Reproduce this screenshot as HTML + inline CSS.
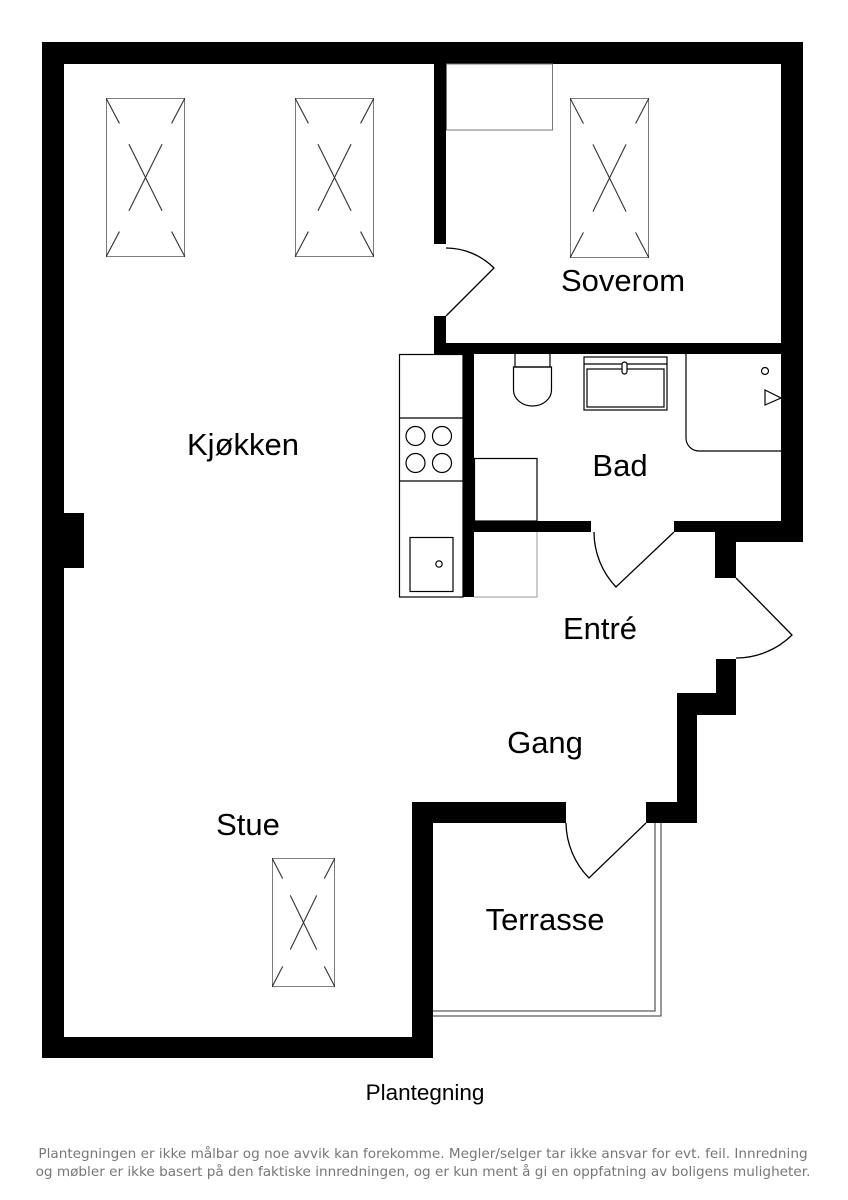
<!DOCTYPE html>
<html><head><meta charset="utf-8"><style>
html,body{margin:0;padding:0;background:#fff;}
svg{display:block}
text{font-family:"Liberation Sans",Arial,sans-serif;fill:#000}
.ft{font-family:"DejaVu Sans",Verdana,sans-serif;fill:#777;font-size:13.6px}
</style></head><body>
<svg width="848" height="1200" viewBox="0 0 848 1200" xmlns="http://www.w3.org/2000/svg">
<defs>
<symbol id="sky" viewBox="0 0 100 100" preserveAspectRatio="none">
<rect x="0" y="0" width="100" height="100" fill="none" stroke="#333" stroke-width="1.3" vector-effect="non-scaling-stroke"/>
<path d="M0 0L17 16M100 0L83 16M0 100L17 84M100 100L83 84M29 29L71 71M71 29L29 71" stroke="#333" stroke-width="1.1" fill="none" vector-effect="non-scaling-stroke"/>
</symbol>
</defs>
<g fill="#000">
<rect x="42" y="42" width="761" height="22"/>
<rect x="42" y="42" width="22" height="1016"/>
<rect x="42" y="1037" width="391" height="21"/>
<rect x="781" y="42" width="22" height="500"/>
<rect x="64" y="513" width="20" height="55"/>
<rect x="434" y="64" width="12" height="180"/>
<rect x="434" y="316" width="12" height="38"/>
<rect x="434" y="343" width="347" height="11"/>
<rect x="463" y="354" width="11" height="243"/>
<rect x="474" y="521" width="117" height="11"/>
<rect x="674" y="521" width="107" height="11"/>
<rect x="715" y="532" width="88" height="10"/>
<rect x="715" y="532" width="21" height="46"/>
<rect x="716" y="659" width="20" height="56"/>
<rect x="677" y="693" width="59" height="22"/>
<rect x="677" y="693" width="20" height="130"/>
<rect x="646" y="802" width="51" height="21"/>
<rect x="412" y="802" width="154" height="21"/>
<rect x="412" y="802" width="21" height="256"/>
</g>
<g fill="none" stroke="#333" stroke-width="1">
<path d="M655 823V1011H433M661 823V1016H433"/>
</g>
<g fill="none" stroke="#000" stroke-width="1.3">
<path d="M446 316L494 268A68 68 0 0 0 446 248"/>
<path d="M674 532L616 587A80 80 0 0 1 594 532"/>
<path d="M736 578L792 635A80 80 0 0 1 736 658"/>
<path d="M646 823L589 878A80 80 0 0 1 566 823"/>
</g>
<rect x="446.5" y="64" width="106" height="66" fill="none" stroke="#777" stroke-width="1"/>
<use href="#sky" x="106" y="98" width="79" height="159"/>
<use href="#sky" x="295" y="98" width="79" height="159"/>
<use href="#sky" x="570" y="98" width="79" height="160"/>
<use href="#sky" x="272" y="858" width="63" height="129"/>
<g fill="none" stroke="#000" stroke-width="1.2">
<rect x="399.5" y="354.5" width="63.5" height="242.5"/>
<line x1="399.5" y1="418" x2="463" y2="418"/>
<line x1="399.5" y1="481" x2="463" y2="481"/>
<circle cx="415.5" cy="436" r="9.5"/><circle cx="442" cy="436" r="9.5"/>
<circle cx="415.5" cy="463" r="9.5"/><circle cx="442" cy="463" r="9.5"/>
<rect x="410" y="537.5" width="43" height="54"/>
<circle cx="439" cy="564" r="3.2"/>
<rect x="474.5" y="458.5" width="62.5" height="62.5"/>
</g>
<path d="M474 597H537V532" fill="none" stroke="#999" stroke-width="1"/>
<g fill="none" stroke="#000" stroke-width="1.2">
<path d="M515 354V367H550V354"/>
<path d="M513.5 367V390A19 16 0 0 0 551.5 390V367Z"/>
<rect x="584" y="357" width="83" height="53"/>
<line x1="584" y1="364" x2="667" y2="364"/>
<rect x="587" y="369" width="77" height="38"/>
<rect x="622" y="362" width="5" height="12" rx="2.5" fill="#fff"/>
<path d="M686 354V438A13 13 0 0 0 699 451H781"/>
<circle cx="765" cy="371" r="3.5"/>
<path d="M765 390L781 398L765 405Z"/>
</g>
<text x="623" y="291" font-size="31" text-anchor="middle">Soverom</text>
<text x="243" y="455" font-size="31" text-anchor="middle">Kjøkken</text>
<text x="620" y="476" font-size="31" text-anchor="middle">Bad</text>
<text x="600" y="639" font-size="31" text-anchor="middle">Entré</text>
<text x="545" y="753" font-size="31" text-anchor="middle">Gang</text>
<text x="248" y="835" font-size="31" text-anchor="middle">Stue</text>
<text x="545" y="930" font-size="31" text-anchor="middle">Terrasse</text>
<text x="425" y="1100" font-size="22.5" text-anchor="middle">Plantegning</text>
<text class="ft" x="423" y="1158" text-anchor="middle">Plantegningen er ikke målbar og noe avvik kan forekomme. Megler/selger tar ikke ansvar for evt. feil. Innredning</text>
<text class="ft" x="423" y="1176" text-anchor="middle">og møbler er ikke basert på den faktiske innredningen, og er kun ment å gi en oppfatning av boligens muligheter.</text>
</svg>
</body></html>
